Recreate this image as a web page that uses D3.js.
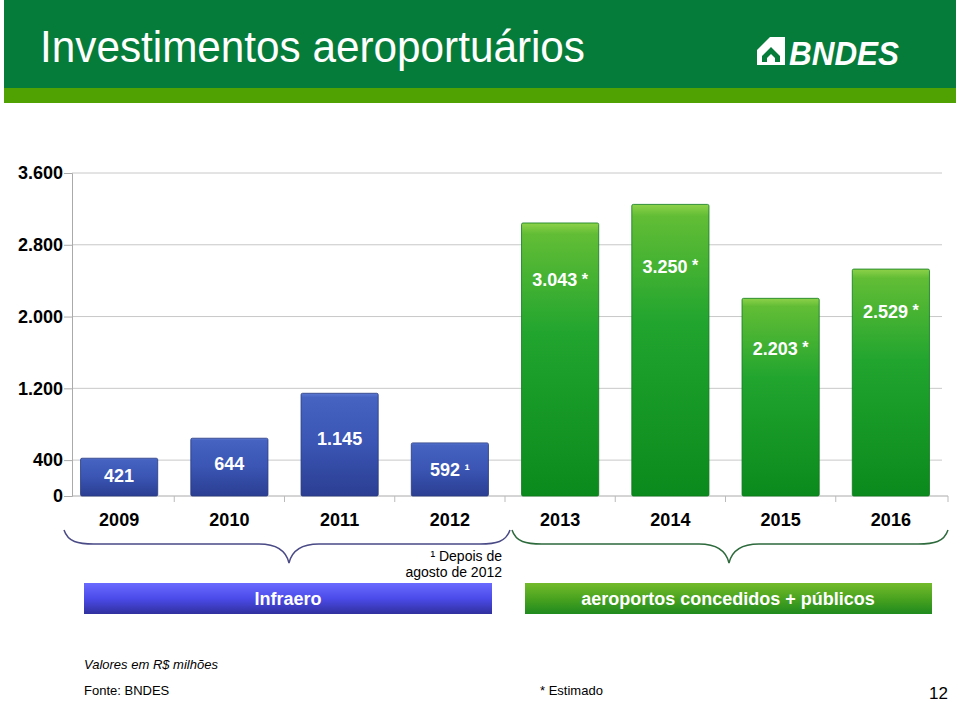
<!DOCTYPE html>
<html><head><meta charset="utf-8">
<script src="https://cdn.jsdelivr.net/npm/d3@7"></script>
<style>body{margin:0;background:#fff}svg{display:block;font-family:"Liberation Sans",Arial,sans-serif}</style>
</head><body>
<svg id="c" width="960" height="703"></svg>
<script>
const years = ["2009","2010","2011","2012","2013","2014","2015","2016"];
const values = [421, 644, 1145, 592, 3043, 3250, 2203, 2529];
const groups = ["infraero","infraero","infraero","infraero","concedido","concedido","concedido","concedido"];
const suffixes = ["", "", "", "\u00b9", "*", "*", "*", "*"];
const yTicks = [0, 400, 1200, 2000, 2800, 3600];
const labelDy = [17, 25, 45, 27, 57, 62, 50, 42];

const rows = years.map((yr,i)=>({year:yr, value:values[i], group:groups[i], suffix:suffixes[i], dy:labelDy[i]}));

const svg = d3.select("#c");
const defs = svg.append("defs");
function grad(id, stops){
  const g = defs.append("linearGradient").attr("id",id).attr("x1",0).attr("y1",0).attr("x2",0).attr("y2",1);
  stops.forEach(s=>g.append("stop").attr("offset",s[0]).attr("stop-color",s[1]));
}
grad("gBlue",[[0,"#5b79d2"],[0.04,"#4663c2"],[0.5,"#3a55b3"],[1,"#2b3e92"]]);
grad("gGreen",[[0,"#8ed24a"],[0.04,"#62bd35"],[0.4,"#22a52f"],[1,"#0a8a1c"]]);
grad("gBoxBlue",[[0,"#6a6aff"],[0.5,"#4b4bea"],[1,"#30309e"]]);
grad("gBoxGreen",[[0,"#74bb2c"],[0.5,"#4aa31f"],[1,"#1f8a1e"]]);

const pt = d3.formatLocale({decimal:",",thousands:".",grouping:[3],currency:["R$",""]});
const fmt = pt.format(",d");

// header
svg.append("rect").attr("x",4).attr("y",0).attr("width",952).attr("height",88).attr("fill","#067c3b");
svg.append("rect").attr("x",4).attr("y",88).attr("width",952).attr("height",15).attr("fill","#4fa201");
svg.append("text").attr("x",40).attr("y",62).attr("fill","#fff").attr("font-size",44)
  .attr("font-family","'Liberation Sans Narrow','Arial Narrow','Liberation Sans',sans-serif")
  .attr("textLength",545).attr("lengthAdjust","spacingAndGlyphs").text("Investimentos aeroportuários");
// logo
const lg = svg.append("g");
lg.append("rect").attr("x",757).attr("y",37).attr("width",28).attr("height",28).attr("fill","#fff");
lg.append("path").attr("d","M757,37 L770,37 L757,50 Z").attr("fill","#067c3b");
lg.append("path").attr("d","M762,62 L762,56 L771,47 L780,56 L780,62 L775,62 L775,58 L771,54 L767,58 L767,62 Z").attr("fill","#067c3b");
lg.append("text").attr("x",789).attr("y",65).attr("fill","#fff").attr("font-size",33)
  .attr("font-weight","bold").attr("font-style","italic").attr("textLength",110).attr("lengthAdjust","spacingAndGlyphs").text("BNDES");

// scales
const y = d3.scaleLinear().domain([0,3600]).range([496,173]);
const x = d3.scaleBand().domain(years).range([64,946]).paddingInner(0.3).paddingOuter(0.15);

// gridlines
svg.append("g").selectAll("line").data(yTicks.filter(d=>d>0)).join("line")
  .attr("x1",72).attr("x2",942).attr("y1",d=>y(d)).attr("y2",d=>y(d))
  .attr("stroke","#c8c8c8").attr("stroke-width",1);

// y axis
const ya = svg.append("g").attr("transform","translate(72,0)")
  .call(d3.axisLeft(y).tickValues(yTicks).tickFormat(d=>fmt(d)).tickSize(8).tickPadding(1));
ya.select(".domain").attr("stroke","#aaa");
ya.selectAll(".tick line").attr("stroke","#aaa");
ya.selectAll("text").attr("font-size",18).attr("font-weight","bold").attr("fill","#000")
  .attr("font-family","'Liberation Sans',Arial,sans-serif");

// x axis
const xa = svg.append("g").attr("transform","translate(0,496)")
  .call(d3.axisBottom(x).tickSize(0).tickPadding(17));
xa.select(".domain").attr("stroke","#aaa").attr("d","M72,0H948");
xa.selectAll("text").attr("font-size",18).attr("font-weight","bold").attr("fill","#000")
  .attr("font-family","'Liberation Sans',Arial,sans-serif");
// category boundary ticks
const bounds = years.slice(1).map(d=>x(d)-x.step()*x.paddingInner()/2);
svg.append("g").selectAll("line").data(bounds.concat([948])).join("line")
  .attr("x1",d=>d).attr("x2",d=>d).attr("y1",496).attr("y2",502).attr("stroke","#bbb");

// bars
svg.append("g").selectAll("rect").data(rows).join("rect")
  .attr("x",d=>x(d.year)).attr("width",x.bandwidth())
  .attr("y",d=>y(d.value)).attr("height",d=>y(0)-y(d.value))
  .attr("rx",1.5)
  .attr("fill",d=>d.group==="infraero"?"url(#gBlue)":"url(#gGreen)")
  .attr("stroke",d=>d.group==="infraero"?"#26387f":"#0a7a1a").attr("stroke-width",0.8);

// value labels
const lab = svg.append("g").selectAll("text").data(rows).join("text")
  .attr("x",d=>x(d.year)+x.bandwidth()/2)
  .attr("y",d=>y(d.value)+d.dy).attr("dy","0.36em")
  .attr("text-anchor","middle").attr("fill","#fff").attr("font-size",18).attr("font-weight","bold");
lab.append("tspan").text(d=>fmt(d.value));
lab.filter(d=>d.suffix==="*").append("tspan").attr("font-size",16).attr("dy","-0.1em").text(" *");
lab.filter(d=>d.suffix==="\u00b9").append("tspan").attr("font-size",16).attr("dy","-0.1em").text(" \u00b9");

// braces
function brace(x1,x2,xm,y0,ym,yt){
  const p = d3.path();
  p.moveTo(x1,y0);
  p.bezierCurveTo(x1+4,ym-2,x1+14,ym,x1+30,ym);
  p.lineTo(xm-30,ym);
  p.bezierCurveTo(xm-14,ym,xm-3,ym+6,xm,yt);
  p.bezierCurveTo(xm+3,ym+6,xm+14,ym,xm+30,ym);
  p.lineTo(x2-30,ym);
  p.bezierCurveTo(x2-14,ym,x2-4,ym-2,x2,y0);
  return p.toString();
}
svg.append("path").attr("d",brace(64,510,289,530,544,563)).attr("fill","none").attr("stroke","#4a4a86").attr("stroke-width",1.5);
svg.append("path").attr("d",brace(512,948,729,530,544,563)).attr("fill","none").attr("stroke","#2d6a3c").attr("stroke-width",1.5);

// note
svg.append("text").attr("x",502).attr("y",561).attr("text-anchor","end").attr("font-size",14).text("\u00b9 Depois de");
svg.append("text").attr("x",502).attr("y",577).attr("text-anchor","end").attr("font-size",14).text("agosto de 2012");

// group boxes
svg.append("rect").attr("x",84).attr("y",583).attr("width",408).attr("height",31).attr("fill","url(#gBoxBlue)");
svg.append("text").attr("x",288).attr("y",605).attr("text-anchor","middle").attr("fill","#fff").attr("font-size",18).attr("font-weight","bold").text("Infraero");
svg.append("rect").attr("x",525).attr("y",583).attr("width",407).attr("height",31).attr("fill","url(#gBoxGreen)");
svg.append("text").attr("x",728).attr("y",605).attr("text-anchor","middle").attr("fill","#fff").attr("font-size",18).attr("font-weight","bold").text("aeroportos concedidos + públicos");

// footer
svg.append("text").attr("x",84).attr("y",669).attr("font-size",13).attr("font-style","italic").text("Valores em R$ milhões");
svg.append("text").attr("x",84).attr("y",695).attr("font-size",13).text("Fonte: BNDES");
svg.append("text").attr("x",540).attr("y",695).attr("font-size",13).text("* Estimado");
svg.append("text").attr("x",948).attr("y",699).attr("text-anchor","end").attr("font-size",17).text("12");
</script>
</body></html>
